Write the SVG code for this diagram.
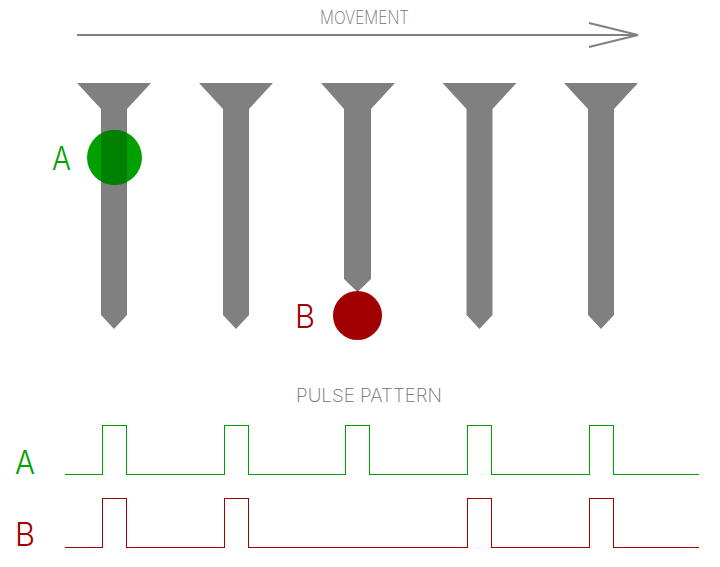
<svg xmlns="http://www.w3.org/2000/svg" width="720" height="567" viewBox="0 0 720 567">
<style>
text{font-family:"Inter","Liberation Sans",sans-serif}
.cap{fill:#707070;font-size:18px;font-weight:200}
.a{fill:#00a000;font-size:33px;font-weight:300}
.b{fill:#a00000;font-size:33px;font-weight:300}
.tooth{fill:#808080}
.wave{fill:none;stroke-width:1;shape-rendering:crispEdges}
#movement-arrow path{fill:none;stroke:#808080;stroke-width:2}
</style>
<defs>
<path id="long" d="M-37 83H37L13 109V315L0 329L-13 315V109Z"/>
<clipPath id="cl"><circle cx="114.500" cy="157.500" r="27.500"/></clipPath>
</defs>
<rect width="720" height="567" fill="#fff"/>
<g id="teeth">
<g id="tooth-1"><use href="#long" x="114" class="tooth"/></g>
<g id="tooth-2"><use href="#long" x="236" class="tooth"/></g>
<g id="tooth-3"><path class="tooth" d="M321 83H395L371 109V279L357.500 292L344 279V109Z"/></g>
<g id="tooth-4"><use href="#long" x="479.500" class="tooth"/></g>
<g id="tooth-5"><use href="#long" x="601" class="tooth"/></g>
</g>
<g id="sensor-a">
<circle cx="114.500" cy="157.500" r="27.500" fill="#00a000"/>
<rect x="101" y="125" width="26" height="65" fill="#008000" clip-path="url(#cl)"/>
<text class="a" x="52" y="170" textLength="19" lengthAdjust="spacingAndGlyphs">A</text>
</g>
<g id="sensor-b">
<circle cx="357.500" cy="315.500" r="24.500" fill="#a00000"/>
<text class="b" x="295" y="328" textLength="20" lengthAdjust="spacingAndGlyphs">B</text>
</g>
<g id="movement-arrow">
<path d="M77 35H638M589 23L638 35L589 47"/>
<text class="cap" x="320" y="24" textLength="89" lengthAdjust="spacingAndGlyphs">MOVEMENT</text>
</g>
<g id="pulse-pattern">
<text class="cap" x="296" y="402" textLength="146" lengthAdjust="spacingAndGlyphs">PULSE PATTERN</text>
<text class="a" x="15" y="474" textLength="20" lengthAdjust="spacingAndGlyphs">A</text>
<text class="b" x="15" y="546" textLength="20" lengthAdjust="spacingAndGlyphs">B</text>
<path class="wave" stroke="#00a000" d="M65 474.500H102.500V425.500H126.500V474.500H224.500V425.500H248.500V474.500H345.500V425.500H369.500V474.500H467.500V425.500H491.500V474.500H589.500V425.500H613.500V474.500H699"/>
<path class="wave" stroke="#a00000" d="M65 547.500H102.500V498.500H126.500V547.500H224.500V498.500H248.500V547.500H467.500V498.500H491.500V547.500H589.500V498.500H613.500V547.500H699"/>
</g>
</svg>
